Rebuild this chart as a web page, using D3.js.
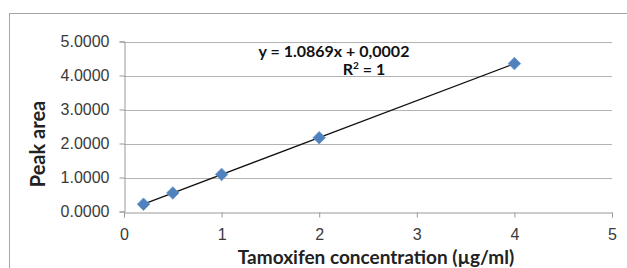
<!doctype html>
<html>
<head>
<meta charset="utf-8">
<title>Calibration</title>
<style>
body { margin: 0; background: #fff; }
svg { display: block; font-family: Lato, "Open Sans", sans-serif; }
</style>
</head>
<body>
<svg width="627" height="268"></svg>
<script src="https://cdn.jsdelivr.net/npm/d3@7"></script>
<script>
// concentrations (µg/ml) and peak areas
var conc = [0.2, 0.5, 1, 2, 4];
var area = [0.215, 0.545, 1.09, 2.17, 4.35];
var xTicks = [0, 1, 2, 3, 4, 5];
var yTicks = [0, 1, 2, 3, 4, 5];
var slope = 1.0869, intercept = 0.0002;

var svg = d3.select("svg");

// chart frame
svg.append("rect")
    .attr("x", 9.5).attr("y", 13.5)
    .attr("width", 640).attr("height", 280)
    .attr("fill", "none").attr("stroke", "#a6a6a6");

var x = d3.scaleLinear().domain([0, 5]).range([124, 612]);
var y = d3.scaleLinear().domain([0, 5]).range([211.5, 41.5]);

// horizontal gridlines
svg.append("g").selectAll("line").data(yTicks.slice(1)).enter().append("line")
    .attr("x1", x(0)).attr("x2", x(5))
    .attr("y1", function(d) { return Math.round(y(d)) + 0.5; })
    .attr("y2", function(d) { return Math.round(y(d)) + 0.5; })
    .attr("stroke", "#b3b3b3").attr("stroke-width", 1.2);

var yAxis = d3.axisLeft(y).tickValues(yTicks).tickSize(5).tickPadding(10)
    .tickFormat(d3.format(".4f"));
var gy = svg.append("g").attr("transform", "translate(" + (x(0) + 0.5) + ",0)").call(yAxis);

var xAxis = d3.axisBottom(x).tickValues(xTicks).tickSize(5).tickPadding(11)
    .tickFormat(d3.format("d"));
var gx = svg.append("g").attr("transform", "translate(0," + (Math.round(y(0)) + 0.5) + ")").call(xAxis);

[gx, gy].forEach(function(g) {
    g.select(".domain").attr("stroke", "#999");
    g.selectAll(".tick line").attr("stroke", "#999");
    g.selectAll(".tick text").attr("fill", "#3a3a3a").attr("font-size", 16);
});

// trend line
svg.append("line")
    .attr("x1", x(conc[0])).attr("y1", y(slope * conc[0] + intercept))
    .attr("x2", x(conc[conc.length - 1])).attr("y2", y(slope * conc[conc.length - 1] + intercept))
    .attr("stroke", "#111").attr("stroke-width", 1.3);

// markers
svg.append("g").selectAll("path").data(conc).enter().append("path")
    .attr("d", d3.symbol().type(d3.symbolDiamond2).size(100))
    .attr("transform", function(d, i) { return "translate(" + x(d) + "," + y(area[i]) + ")"; })
    .attr("fill", "#4f81bd").attr("stroke", "#6a93c6").attr("stroke-width", 0.8);

// equation
svg.append("text").attr("x", 334).attr("y", 57).attr("text-anchor", "middle")
    .attr("font-weight", "bold").attr("font-size", 16).attr("fill", "#111")
    .text("y = 1.0869x + 0,0002");
var r2 = svg.append("text").attr("x", 364).attr("y", 75).attr("text-anchor", "middle")
    .attr("font-weight", "bold").attr("font-size", 16).attr("fill", "#111");
r2.append("tspan").text("R");
r2.append("tspan").attr("font-size", 10).attr("dy", -6).text("2");
r2.append("tspan").attr("dy", 6).text(" = 1");

// axis titles
svg.append("text")
    .attr("transform", "translate(45,144) rotate(-90)")
    .attr("text-anchor", "middle").attr("font-weight", "bold").attr("font-size", 20).attr("fill", "#222")
    .text("Peak area");
svg.append("text").attr("x", 376).attr("y", 264).attr("text-anchor", "middle")
    .attr("font-weight", "bold").attr("font-size", 19).attr("fill", "#222")
    .text("Tamoxifen concentration (µg/ml)");
</script>
</body>
</html>
